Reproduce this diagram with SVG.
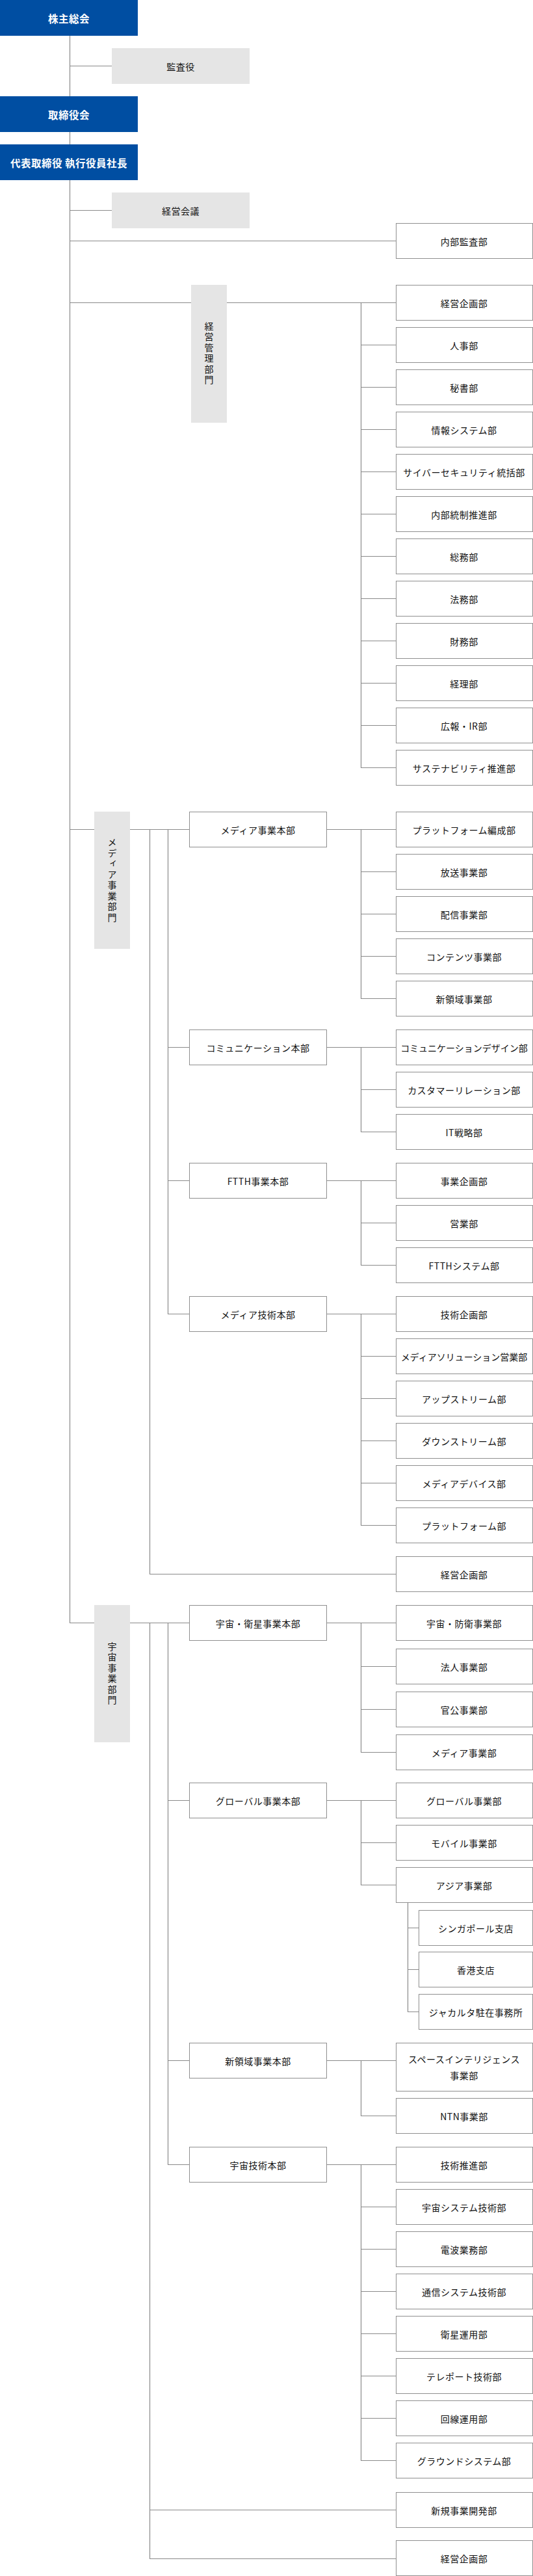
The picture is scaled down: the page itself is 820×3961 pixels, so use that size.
<svg xmlns="http://www.w3.org/2000/svg" width="820" height="3961" viewBox="0 0 820 3961">
<style>
.bl{fill:#004ea2}
.gr{fill:#e5e5e5}
.wb{fill:#fff;stroke:#8f8f8f;stroke-width:1}
.ln{stroke:#8a8a8a;stroke-width:1.2;fill:none}
text{font-family:"Noto Sans CJK JP","Noto Sans",sans-serif;font-size:14px;letter-spacing:0.5px;text-anchor:middle;dominant-baseline:central;fill:#111}
.wt{fill:#fff;font-size:15.5px;font-weight:bold}
.vt{writing-mode:vertical-rl;letter-spacing:2.5px;font-size:14px}
</style>
<g id="connectors" class="ln">
<path d="M107.5 55V2495.5"/>
<path d="M107 101.5H172M107 323.5H172M107 370.5H609"/>
<path d="M107 465.5H294M349 465.5H609M555.5 465V1180.5"/>
<path d="M555 530.5H609M555 595.5H609M555 660.5H609M555 725.5H609M555 790.5H609M555 855.5H609M555 920.5H609M555 985.5H609M555 1050.5H609M555 1115.5H609M555 1180.5H609"/>
<path d="M107 1275.5H145M200 1275.5H291M230.5 1275V2420.5M258.5 1275V2020.5"/>
<path d="M258 1610.5H291M258 1815.5H291M258 2020.5H291M230 2420.5H609"/>
<path d="M503 1275.5H609M555.5 1275V1535.5M555 1340.5H609M555 1405.5H609M555 1470.5H609M555 1535.5H609"/>
<path d="M503 1610.5H609M555.5 1610V1740.5M555 1675.5H609M555 1740.5H609"/>
<path d="M503 1815.5H609M555.5 1815V1945.5M555 1880.5H609M555 1945.5H609"/>
<path d="M503 2020.5H609M555.5 2020V2345.5M555 2085.5H609M555 2150.5H609M555 2215.5H609M555 2280.5H609M555 2345.5H609"/>
<path d="M107 2495.5H145M200 2495.5H291M230.5 2495V3934.5M258.5 2495V3328.5"/>
<path d="M258 2768.5H291M258 3168.5H291M258 3328.5H291M230 3859.5H609M230 3934.5H609"/>
<path d="M503 2495.5H609M555.5 2495V2694.5M555 2562.5H609M555 2628.5H609M555 2694.5H609"/>
<path d="M503 2768.5H609M555.5 2768V2898.5M555 2833.5H609M555 2898.5H609"/>
<path d="M627.5 2925V3093.5M627 2964.5H644M627 3028.5H644M627 3093.5H644"/>
<path d="M503 3168.5H609M555.5 3168V3253.5M555 3253.5H609"/>
<path d="M503 3328.5H609M555.5 3328V3783.5M555 3393.5H609M555 3458.5H609M555 3523.5H609M555 3588.5H609M555 3653.5H609M555 3718.5H609M555 3783.5H609"/>
</g>
<g id="n_kabunushi"><rect class="bl" x="0" y="0" width="212" height="55"/><text class="wt" x="106" y="28">株主総会</text></g>
<g id="n_kansayaku"><rect class="gr" x="172" y="74" width="212" height="55"/><text x="278" y="102">監査役</text></g>
<g id="n_torishimariyakukai"><rect class="bl" x="0" y="148" width="212" height="55"/><text class="wt" x="106" y="176">取締役会</text></g>
<g id="n_shacho"><rect class="bl" x="0" y="222" width="212" height="55"/><text class="wt" x="106" y="250">代表取締役 執行役員社長</text></g>
<g id="n_keieikaigi"><rect class="gr" x="172" y="296" width="212" height="55"/><text x="278" y="324">経営会議</text></g>
<g id="n_naibukansa"><rect class="wb" x="609.5" y="343.5" width="210" height="54"/><text x="714" y="371">内部監査部</text></g>
<g id="n_keieikanri"><rect class="gr" x="294" y="438" width="55" height="212"/><text class="vt" x="321.5" y="544">経営管理部門</text></g>
<g id="n_k1"><rect class="wb" x="609.5" y="438.5" width="210" height="54"/><text x="714" y="466">経営企画部</text></g>
<g id="n_k2"><rect class="wb" x="609.5" y="503.5" width="210" height="54"/><text x="714" y="531">人事部</text></g>
<g id="n_k3"><rect class="wb" x="609.5" y="568.5" width="210" height="54"/><text x="714" y="596">秘書部</text></g>
<g id="n_k4"><rect class="wb" x="609.5" y="633.5" width="210" height="54"/><text x="714" y="661">情報システム部</text></g>
<g id="n_k5"><rect class="wb" x="609.5" y="698.5" width="210" height="54"/><text x="714" y="726">サイバーセキュリティ統括部</text></g>
<g id="n_k6"><rect class="wb" x="609.5" y="763.5" width="210" height="54"/><text x="714" y="791">内部統制推進部</text></g>
<g id="n_k7"><rect class="wb" x="609.5" y="828.5" width="210" height="54"/><text x="714" y="856">総務部</text></g>
<g id="n_k8"><rect class="wb" x="609.5" y="893.5" width="210" height="54"/><text x="714" y="921">法務部</text></g>
<g id="n_k9"><rect class="wb" x="609.5" y="958.5" width="210" height="54"/><text x="714" y="986">財務部</text></g>
<g id="n_k10"><rect class="wb" x="609.5" y="1023.5" width="210" height="54"/><text x="714" y="1051">経理部</text></g>
<g id="n_k11"><rect class="wb" x="609.5" y="1088.5" width="210" height="54"/><text x="714" y="1116">広報・IR部</text></g>
<g id="n_k12"><rect class="wb" x="609.5" y="1153.5" width="210" height="54"/><text x="714" y="1181">サステナビリティ推進部</text></g>
<g id="n_media"><rect class="gr" x="145" y="1248" width="55" height="211"/><text class="vt" x="172.5" y="1354">メディア事業部門</text></g>
<g id="n_m_hq1"><rect class="wb" x="291.5" y="1248.5" width="211" height="54"/><text x="397" y="1276">メディア事業本部</text></g>
<g id="n_m1a"><rect class="wb" x="609.5" y="1248.5" width="210" height="54"/><text x="714" y="1276">プラットフォーム編成部</text></g>
<g id="n_m1b"><rect class="wb" x="609.5" y="1313.5" width="210" height="54"/><text x="714" y="1341">放送事業部</text></g>
<g id="n_m1c"><rect class="wb" x="609.5" y="1378.5" width="210" height="54"/><text x="714" y="1406">配信事業部</text></g>
<g id="n_m1d"><rect class="wb" x="609.5" y="1443.5" width="210" height="54"/><text x="714" y="1471">コンテンツ事業部</text></g>
<g id="n_m1e"><rect class="wb" x="609.5" y="1508.5" width="210" height="54"/><text x="714" y="1536">新領域事業部</text></g>
<g id="n_m_hq2"><rect class="wb" x="291.5" y="1583.5" width="211" height="54"/><text x="397" y="1611">コミュニケーション本部</text></g>
<g id="n_m2a"><rect class="wb" x="609.5" y="1583.5" width="210" height="54"/><text x="714" y="1611" style="letter-spacing:0">コミュニケーションデザイン部</text></g>
<g id="n_m2b"><rect class="wb" x="609.5" y="1648.5" width="210" height="54"/><text x="714" y="1676">カスタマーリレーション部</text></g>
<g id="n_m2c"><rect class="wb" x="609.5" y="1713.5" width="210" height="54"/><text x="714" y="1741">IT戦略部</text></g>
<g id="n_m_hq3"><rect class="wb" x="291.5" y="1788.5" width="211" height="54"/><text x="397" y="1816">FTTH事業本部</text></g>
<g id="n_m3a"><rect class="wb" x="609.5" y="1788.5" width="210" height="54"/><text x="714" y="1816">事業企画部</text></g>
<g id="n_m3b"><rect class="wb" x="609.5" y="1853.5" width="210" height="54"/><text x="714" y="1881">営業部</text></g>
<g id="n_m3c"><rect class="wb" x="609.5" y="1918.5" width="210" height="54"/><text x="714" y="1946">FTTHシステム部</text></g>
<g id="n_m_hq4"><rect class="wb" x="291.5" y="1993.5" width="211" height="54"/><text x="397" y="2021">メディア技術本部</text></g>
<g id="n_m4a"><rect class="wb" x="609.5" y="1993.5" width="210" height="54"/><text x="714" y="2021">技術企画部</text></g>
<g id="n_m4b"><rect class="wb" x="609.5" y="2058.5" width="210" height="54"/><text x="714" y="2086" style="letter-spacing:0">メディアソリューション営業部</text></g>
<g id="n_m4c"><rect class="wb" x="609.5" y="2123.5" width="210" height="54"/><text x="714" y="2151">アップストリーム部</text></g>
<g id="n_m4d"><rect class="wb" x="609.5" y="2188.5" width="210" height="54"/><text x="714" y="2216">ダウンストリーム部</text></g>
<g id="n_m4e"><rect class="wb" x="609.5" y="2253.5" width="210" height="54"/><text x="714" y="2281">メディアデバイス部</text></g>
<g id="n_m4f"><rect class="wb" x="609.5" y="2318.5" width="210" height="54"/><text x="714" y="2346">プラットフォーム部</text></g>
<g id="n_m_kikaku"><rect class="wb" x="609.5" y="2393.5" width="210" height="54"/><text x="714" y="2421">経営企画部</text></g>
<g id="n_space"><rect class="gr" x="145" y="2468" width="55" height="211"/><text class="vt" x="172.5" y="2574">宇宙事業部門</text></g>
<g id="n_s_hq1"><rect class="wb" x="291.5" y="2468.5" width="211" height="54"/><text x="397" y="2496">宇宙・衛星事業本部</text></g>
<g id="n_s1a"><rect class="wb" x="609.5" y="2468.5" width="210" height="54"/><text x="714" y="2496">宇宙・防衛事業部</text></g>
<g id="n_s1b"><rect class="wb" x="609.5" y="2535.5" width="210" height="54"/><text x="714" y="2563">法人事業部</text></g>
<g id="n_s1c"><rect class="wb" x="609.5" y="2601.5" width="210" height="54"/><text x="714" y="2629">官公事業部</text></g>
<g id="n_s1d"><rect class="wb" x="609.5" y="2667.5" width="210" height="54"/><text x="714" y="2695">メディア事業部</text></g>
<g id="n_s_hq2"><rect class="wb" x="291.5" y="2741.5" width="211" height="54"/><text x="397" y="2769">グローバル事業本部</text></g>
<g id="n_s2a"><rect class="wb" x="609.5" y="2741.5" width="210" height="54"/><text x="714" y="2769">グローバル事業部</text></g>
<g id="n_s2b"><rect class="wb" x="609.5" y="2806.5" width="210" height="54"/><text x="714" y="2834">モバイル事業部</text></g>
<g id="n_s2c"><rect class="wb" x="609.5" y="2871.5" width="210" height="54"/><text x="714" y="2899">アジア事業部</text></g>
<g id="n_s2c1"><rect class="wb" x="644.5" y="2937.5" width="175" height="54"/><text x="732" y="2965">シンガポール支店</text></g>
<g id="n_s2c2"><rect class="wb" x="644.5" y="3001.5" width="175" height="54"/><text x="732" y="3029">香港支店</text></g>
<g id="n_s2c3"><rect class="wb" x="644.5" y="3066.5" width="175" height="54"/><text x="732" y="3094">ジャカルタ駐在事務所</text></g>
<g id="n_s_hq3"><rect class="wb" x="291.5" y="3141.5" width="211" height="54"/><text x="397" y="3169">新領域事業本部</text></g>
<g id="n_s3a"><rect class="wb" x="609.5" y="3141.5" width="210" height="74"/><text x="714" y="3166">スペースインテリジェンス</text><text x="714" y="3191">事業部</text></g>
<g id="n_s3b"><rect class="wb" x="609.5" y="3226.5" width="210" height="54"/><text x="714" y="3254">NTN事業部</text></g>
<g id="n_s_hq4"><rect class="wb" x="291.5" y="3301.5" width="211" height="54"/><text x="397" y="3329">宇宙技術本部</text></g>
<g id="n_s4a"><rect class="wb" x="609.5" y="3301.5" width="210" height="54"/><text x="714" y="3329">技術推進部</text></g>
<g id="n_s4b"><rect class="wb" x="609.5" y="3366.5" width="210" height="54"/><text x="714" y="3394">宇宙システム技術部</text></g>
<g id="n_s4c"><rect class="wb" x="609.5" y="3431.5" width="210" height="54"/><text x="714" y="3459">電波業務部</text></g>
<g id="n_s4d"><rect class="wb" x="609.5" y="3496.5" width="210" height="54"/><text x="714" y="3524">通信システム技術部</text></g>
<g id="n_s4e"><rect class="wb" x="609.5" y="3561.5" width="210" height="54"/><text x="714" y="3589">衛星運用部</text></g>
<g id="n_s4f"><rect class="wb" x="609.5" y="3626.5" width="210" height="54"/><text x="714" y="3654">テレポート技術部</text></g>
<g id="n_s4g"><rect class="wb" x="609.5" y="3691.5" width="210" height="54"/><text x="714" y="3719">回線運用部</text></g>
<g id="n_s4h"><rect class="wb" x="609.5" y="3756.5" width="210" height="54"/><text x="714" y="3784">グラウンドシステム部</text></g>
<g id="n_s_shinki"><rect class="wb" x="609.5" y="3832.5" width="210" height="54"/><text x="714" y="3860">新規事業開発部</text></g>
<g id="n_s_kikaku"><rect class="wb" x="609.5" y="3906.5" width="210" height="54"/><text x="714" y="3934">経営企画部</text></g>
</svg>
